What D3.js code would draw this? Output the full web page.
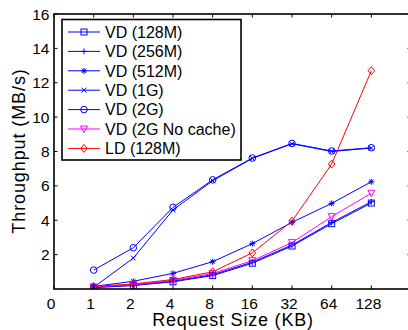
<!DOCTYPE html>
<html><head><meta charset="utf-8">
<script src="https://cdn.jsdelivr.net/npm/d3@7"></script>
<style>body{margin:0;background:#fff}svg{display:block}text{font-family:"Liberation Sans",Arial,sans-serif}</style>
</head><body><svg id="c" width="408" height="330"></svg>
<script>
const sizes = ["1","2","4","8","16","32","64","128"];
const xTickLabels = ["0","1","2","4","8","16","32","64","128"];
const yTicks = [2,4,6,8,10,12,14,16];
const names = ["VD (128M)","VD (256M)","VD (512M)","VD (1G)","VD (2G)","VD (2G No cache)","LD (128M)"];
const vd128 = [0.08,0.20,0.42,0.78,1.50,2.50,3.80,5.00];
const vd256 = [0.10,0.22,0.46,0.83,1.56,2.56,3.87,5.08];
const vd512 = [0.15,0.45,0.91,1.59,2.64,3.88,4.98,6.24];
const vd1g  = [0.10,1.80,4.60,6.30,7.60,8.45,8.00,8.20];
const vd2g  = [1.10,2.40,4.75,6.35,7.62,8.47,8.03,8.22];
const vd2gnc= [0.12,0.25,0.50,0.90,1.65,2.70,4.21,5.57];
const ld128 = [0.15,0.30,0.55,1.00,2.10,3.95,7.27,12.70];

const seriesVals = [vd128,vd256,vd512,vd1g,vd2g,vd2gnc,ld128];
const colors = ["#0000ff","#0000ff","#0000ff","#0000ff","#0000ff","#ff00ff","#ff0000"];
const markers = ["square","plus","star","x","circle","tri","diamond"];

const svg = d3.select("#c");
const L=54, R=411, T=14, B=289;
const x = d3.scaleLinear().domain([0,9]).range([L,R]);
const y = d3.scaleLinear().domain([0,16]).range([B,T]);

function marker(g, type, cx, cy, col){
  const s=3;
  if(type==="square") g.append("rect").attr("x",cx-s).attr("y",cy-s).attr("width",2*s).attr("height",2*s).attr("fill","none").attr("stroke",col);
  else if(type==="circle") g.append("circle").attr("cx",cx).attr("cy",cy).attr("r",3.3).attr("fill","none").attr("stroke",col);
  else if(type==="plus") g.append("path").attr("d",`M${cx-s},${cy}H${cx+s}M${cx},${cy-s}V${cy+s}`).attr("stroke",col);
  else if(type==="x") g.append("path").attr("d",`M${cx-2.5},${cy-2.5}L${cx+2.5},${cy+2.5}M${cx-2.5},${cy+2.5}L${cx+2.5},${cy-2.5}`).attr("stroke",col);
  else if(type==="star") g.append("path").attr("d",`M${cx-s},${cy}H${cx+s}M${cx},${cy-s}V${cy+s}M${cx-2.2},${cy-2.2}L${cx+2.2},${cy+2.2}M${cx-2.2},${cy+2.2}L${cx+2.2},${cy-2.2}`).attr("stroke",col);
  else if(type==="tri") g.append("path").attr("d",`M${cx-3.5},${cy-3}L${cx+3.5},${cy-3}L${cx},${cy+3.5}Z`).attr("fill","none").attr("stroke",col);
  else if(type==="diamond") g.append("path").attr("d",`M${cx},${cy-4}L${cx+3.3},${cy}L${cx},${cy+4}L${cx-3.3},${cy}Z`).attr("fill","none").attr("stroke",col);
}

svg.append("defs").append("clipPath").attr("id","pc").append("rect").attr("x",L).attr("y",T).attr("width",R-L).attr("height",B-T);
const plot = svg.append("g").attr("clip-path","url(#pc)");
const line = d3.line().x((d,i)=>x(i+1)).y(d=>y(d));
seriesVals.forEach((vals,k)=>{
  plot.append("path").attr("d",line(vals)).attr("fill","none").attr("stroke",colors[k]).attr("stroke-width",1);
});
seriesVals.forEach((vals,k)=>{
  const g = plot.append("g").attr("stroke-width",1);
  vals.forEach((v,i)=>marker(g,markers[k],x(i+1),y(v),colors[k]));
});

const ax = svg.append("g").attr("stroke","#000");
ax.append("rect").attr("x",L).attr("y",T).attr("width",R-L).attr("height",B-T).attr("fill","none").attr("stroke-width",1.6);
xTickLabels.forEach((t,i)=>{
  const xx=x(i);
  ax.append("line").attr("x1",xx).attr("x2",xx).attr("y1",B).attr("y2",B-3.5).attr("stroke-width",1);
  ax.append("line").attr("x1",xx).attr("x2",xx).attr("y1",T).attr("y2",T+3.5).attr("stroke-width",1);
});
yTicks.forEach(t=>{
  const yy=y(t);
  ax.append("line").attr("x1",L).attr("x2",L+3.5).attr("y1",yy).attr("y2",yy).attr("stroke-width",1);
  ax.append("line").attr("x1",R).attr("x2",R-3.5).attr("y1",yy).attr("y2",yy).attr("stroke-width",1);
});
const tl = svg.append("g").attr("font-size",15.5).attr("fill","#000");
xTickLabels.forEach((t,i)=>{
  tl.append("text").attr("x",x(i)-3).attr("y",308.5).attr("text-anchor","middle").text(t);
});
yTicks.forEach(t=>{
  tl.append("text").attr("x",L-4.5).attr("y",y(t)+5.5).attr("text-anchor","end").text(t);
});
svg.append("text").attr("x",233).attr("y",326).attr("text-anchor","middle").attr("font-size",18).attr("letter-spacing",0.8).text("Request Size (KB)");
svg.append("text").attr("transform",`translate(25,151) rotate(-90)`).attr("text-anchor","middle").attr("font-size",18).attr("letter-spacing",0.9).text("Throughput (MB/s)");

const lg = svg.append("g");
lg.append("rect").attr("x",62).attr("y",19.5).attr("width",179).attr("height",140.5).attr("fill","#fff").attr("stroke","#000").attr("stroke-width",1.6);
names.forEach((n,k)=>{
  const yy = 32 + k*19.4;
  lg.append("line").attr("x1",68).attr("x2",100).attr("y1",yy).attr("y2",yy).attr("stroke",colors[k]).attr("stroke-width",1);
  marker(lg,markers[k],84,yy,colors[k]);
  lg.append("text").attr("x",105).attr("y",yy+5.7).attr("font-size",16).text(n);
});
</script></body></html>
